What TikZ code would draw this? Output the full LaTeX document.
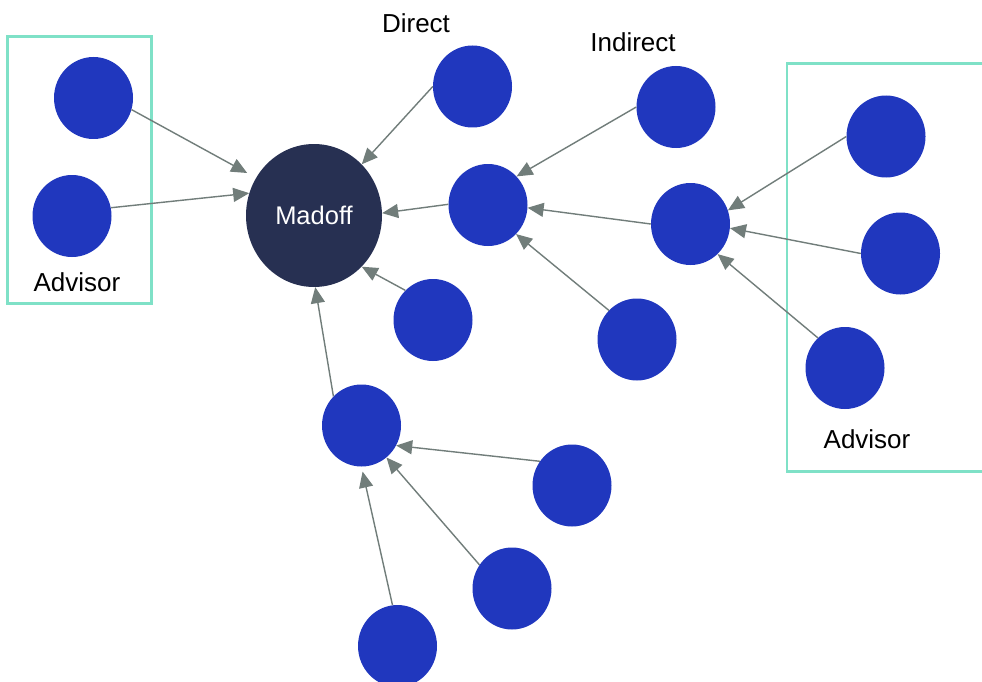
\documentclass[tikz,border=0pt]{standalone}
\usepackage{fontspec}
\setmainfont{Liberation Sans}
\usetikzlibrary{shapes.geometric,arrows.meta}
\definecolor{nodeblue}{HTML}{2037BE}
\definecolor{madoffc}{HTML}{273052}
\definecolor{edgegray}{HTML}{717D7A}
\definecolor{grpteal}{HTML}{7FE1C7}
\begin{document}
\begin{tikzpicture}[x=1pt,y=-1pt,
  inv/.style={ellipse,fill=nodeblue,minimum width=79pt,minimum height=82pt,inner sep=0pt},
  hub/.style={ellipse,fill=madoffc,minimum width=136pt,minimum height=143pt,inner sep=0pt,text=white,font=\fontsize{25.5}{30}\selectfont},
  link/.style={draw=edgegray,line width=1.4pt,-{Triangle[length=16pt,width=14pt]}},
  lbl/.style={font=\fontsize{26}{30}\selectfont,text=black,inner sep=0pt},
  grp/.style={draw=grpteal,line width=2.5pt}]
\useasboundingbox (0,0) rectangle (982,682);
\clip (0,0) rectangle (982,682);
\fill[white] (0,0) rectangle (982,682);
% groups
\draw[grp] (7.5,36.5) rectangle (151.5,303.5);
\draw[grp] (787,63.5) rectangle (995,471.5);
% labels
\node[lbl] (advL) at (77,282) {Advisor};
\node[lbl] (advR) at (867,439) {Advisor};
\node[lbl] (direct) at (416,23) {Direct};
\node[lbl] (indirect) at (633,42) {Indirect};
% nodes
\node[hub] (madoff) at (314,215.5) {Madoff};
\node[inv] (a1) at (93.5,98) {};
\node[inv] (a2) at (72,216) {};
\node[inv] (d) at (472.5,86.5) {};
\node[inv] (m) at (488,205) {};
\node[inv] (b) at (433,320) {};
\node[inv] (ind) at (676,107) {};
\node[inv] (r) at (690.5,224) {};
\node[inv] (p) at (637,339.5) {};
\node[inv] (r1) at (886,136.5) {};
\node[inv] (r2) at (900.5,253.5) {};
\node[inv] (r3) at (845,368) {};
\node[inv] (c) at (361.5,425.5) {};
\node[inv] (c1) at (572,485.5) {};
\node[inv] (c2) at (512,588.5) {};
\node[inv] (c3) at (397.5,646) {};
% connectors
\draw[link,shorten >=10pt] (a1.-17) -- (madoff.147);
\draw[link] (a2.12) -- (madoff.161);
\draw[link] (d.180) -- (madoff.47.6);
\draw[link] (m.179) -- (madoff.2);
\draw[link] (b.133) -- (madoff.-47);
\draw[link] (c.134) -- (madoff.-89);
\draw[link] (ind.180) -- (m.45);
\draw[link] (r.180) -- (m.-4);
\draw[link] (p.134.5) -- (m.-46);
\draw[link] (r1.180) -- (r.20);
\draw[link] (r2.180) -- (r.-6);
\draw[link] (r3.132) -- (r.-48.7);
\draw[link] (c1.143) -- (c.-30.5);
\draw[link] (c2.144) -- (c.-52.5);
\draw[link,shorten >=5pt] (c3.97) -- (c.-90);
\end{tikzpicture}
\end{document}
